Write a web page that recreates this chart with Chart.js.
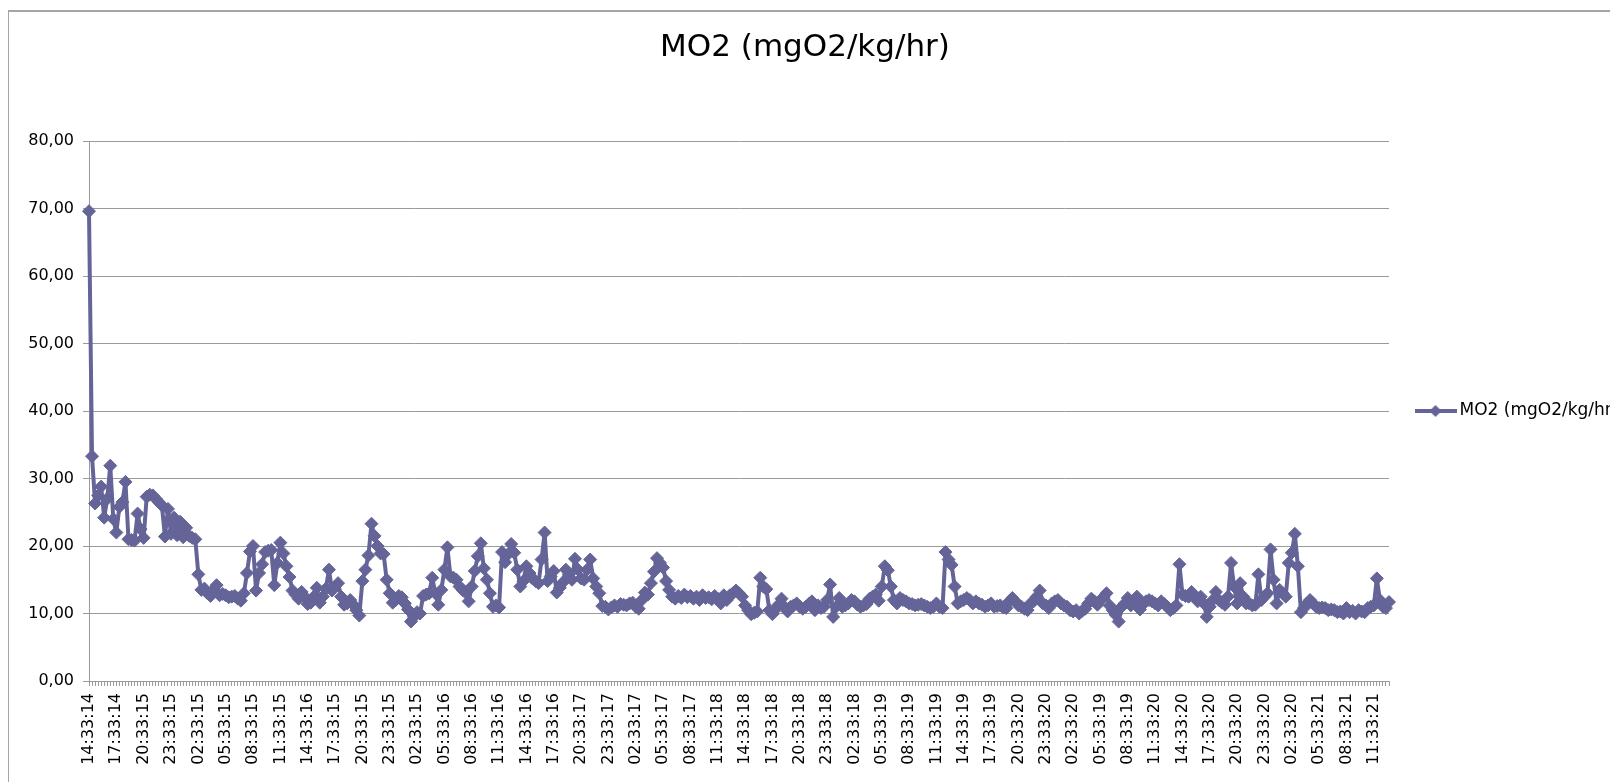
<!DOCTYPE html>
<html lang="en">
<head>
    <meta charset="UTF-8">
    <title>MO2 (mgO2/kg/hr)</title>
    <script src="https://cdn.jsdelivr.net/npm/chart.js"></script>
    <style>
        * {
            margin: 0;
            padding: 0;
            box-sizing: border-box;
        }
        body {
            width: 1610px;
            height: 782px;
            overflow: hidden;
            background: #fff;
            position: relative;
        }
        .frame {
            position: absolute;
            left: 8px;
            top: 10px;
            width: 1620px;
            height: 790px;
            border-left: 1px solid #a6a6a6;
            border-top: 2px solid #a6a6a6;
        }
        .chart-container {
            position: absolute;
            left: 0;
            top: 0;
            width: 1610px;
            height: 782px;
        }
    </style>
</head>
<body>

    <div class="frame"></div>
    <div class="chart-container">
        <canvas id="mo2-chart"></canvas>
    </div>

    <script>
        // labels shown on the x axis, one every 9 readings (20 min steps)
        const tickLabels = [
            '14:33:14', '17:33:14', '20:33:15', '23:33:15', '02:33:15', '05:33:15', '08:33:15', '11:33:15',
            '14:33:16', '17:33:15', '20:33:15', '23:33:15', '02:33:15', '05:33:16', '08:33:16', '11:33:16',
            '14:33:16', '17:33:16', '20:33:17', '23:33:17', '02:33:17', '05:33:17', '08:33:17', '11:33:18',
            '14:33:18', '17:33:18', '20:33:18', '23:33:18', '02:33:18', '05:33:19', '08:33:19', '11:33:19',
            '14:33:19', '17:33:19', '20:33:20', '23:33:20', '02:33:20', '05:33:19', '08:33:19', '11:33:20',
            '14:33:20', '17:33:20', '20:33:20', '23:33:20', '02:33:20', '05:33:21', '08:33:21', '11:33:21'
        ];
        const labelEvery = 9;

        const mo2Values = [
            69.6, 33.3, 26.3, 27.5, 28.8, 24.2, 27.0, 31.9, 24.0, 22.0,
            25.8, 26.5, 29.5, 21.0, 20.9, 20.8, 24.8, 22.5, 21.2, 27.3,
            27.6, 27.5, 27.0, 26.5, 26.0, 21.4, 25.5, 21.8, 24.2, 21.6,
            23.6, 21.3, 22.7, 21.5, 21.2, 21.0, 15.8, 13.5, 13.7, 13.0,
            12.6, 13.5, 14.2, 12.7, 12.9, 12.7, 12.4, 12.5, 12.6, 12.2,
            11.9, 13.0, 16.0, 19.2, 20.0, 13.4, 16.0, 17.3, 19.1, 19.3,
            19.4, 14.2, 17.5, 20.5, 18.9, 17.0, 15.4, 13.4, 12.8, 12.2,
            13.2, 12.5, 11.4, 11.6, 12.5, 13.8, 11.6, 12.5, 13.7, 16.5,
            13.4, 14.0, 14.5, 12.5, 11.3, 11.5, 12.0, 11.3, 10.5, 9.7,
            14.8, 16.5, 18.6, 23.3, 21.5, 20.0, 18.9, 18.8, 15.0, 13.0,
            11.6, 12.0, 12.6, 12.4, 11.5, 10.6, 8.8, 9.5, 10.2, 10.0,
            12.6, 12.8, 13.0, 15.3, 13.0, 11.3, 13.5, 16.5, 19.8, 15.5,
            15.3, 15.0, 14.0, 13.5, 13.1, 11.8, 14.0, 16.3, 18.5, 20.4,
            16.7, 15.0, 13.0, 11.0, 11.2, 10.9, 19.1, 17.6, 18.8, 20.3,
            19.0, 16.5, 14.0, 14.8, 17.0, 16.0, 15.2, 14.8, 14.5, 18.0,
            22.0, 14.8, 15.5, 16.3, 13.1, 13.8, 14.6, 16.5, 15.8, 15.0,
            18.1, 16.5, 15.2, 15.0, 16.5, 18.0, 15.2, 14.0, 13.0, 11.1,
            11.0, 10.6, 10.9, 11.2, 11.0, 11.4, 11.3, 11.2, 11.5, 11.6,
            11.0, 10.7, 12.0, 13.1, 12.8, 14.5, 16.2, 18.2, 17.5, 16.8,
            14.8, 13.5, 12.5, 12.2, 12.6, 12.3, 12.8, 12.4, 12.6, 12.2,
            12.5, 12.0, 12.7, 12.3, 12.4, 12.1, 12.6, 12.2, 11.5, 12.7,
            12.0, 12.7, 13.0, 13.4, 13.0, 12.5, 11.2, 10.5, 9.9, 10.1,
            10.3, 15.3, 14.0, 13.6, 10.5, 9.9, 10.6, 11.3, 12.2, 11.0,
            10.3, 11.0, 11.2, 11.5, 11.0, 10.7, 11.0, 11.4, 11.8, 10.5,
            11.2, 10.8, 11.0, 12.0, 14.3, 9.5, 11.0, 12.3, 11.0, 11.2,
            11.5, 12.0, 11.8, 11.3, 11.0, 11.2, 11.4, 12.2, 12.5, 12.8,
            11.9, 14.0, 17.0, 16.4, 14.0, 12.0, 11.5, 12.3, 12.0, 11.8,
            11.5, 11.4, 11.2, 11.3, 11.4, 11.2, 11.0, 10.8, 11.0, 11.5,
            11.0, 10.8, 19.1, 18.0, 17.2, 14.0, 11.5, 11.8, 12.0, 12.3,
            12.0, 11.5, 11.8, 11.5, 11.3, 11.0, 11.2, 11.5, 11.0, 11.1,
            11.2, 10.9, 10.8, 11.8, 12.3, 11.8, 11.2, 11.0, 10.7, 10.5,
            11.5, 11.8, 12.5, 13.4, 11.5, 11.2, 10.8, 11.5, 11.8, 12.0,
            11.5, 11.2, 11.0, 10.5, 10.3, 10.5, 10.0, 10.4, 10.7, 11.5,
            12.2, 11.8, 11.3, 12.0, 12.4, 13.0, 11.2, 10.5, 9.8, 8.8,
            11.0, 11.5, 12.3, 11.2, 11.8, 12.5, 10.6, 11.5, 11.8, 12.0,
            11.8, 11.5, 11.2, 11.8, 11.4, 11.0, 10.5, 10.8, 11.2, 17.3,
            12.8, 12.6, 12.5, 13.2, 12.5, 11.8, 12.5, 11.5, 9.5, 11.0,
            12.0, 13.2, 12.0, 11.6, 11.3, 12.5, 17.5, 14.0, 11.5, 14.5,
            12.5, 11.5, 11.5, 11.2, 11.3, 15.8, 12.0, 12.5, 13.0, 19.5,
            15.0, 11.5, 13.5, 13.0, 12.5, 17.5, 19.0, 21.8, 17.0, 10.2,
            10.8, 11.5, 12.0, 11.5, 11.0, 10.8, 10.9, 10.8, 10.5, 10.6,
            10.5, 10.2, 10.3, 10.0, 10.8, 10.2, 10.4, 10.0, 10.5, 10.3,
            10.2, 10.8, 11.0, 11.2, 15.2, 12.0, 11.0, 10.8, 11.7
        ];

        const categories = mo2Values.map((v, i) => i % labelEvery === 0 ? tickLabels[i / labelEvery] : '');

        const lineColor = '#646498';
        const gridColor = '#9a9a9a';

        // excel-like legend key: a short line with a diamond on it
        const legendIcon = document.createElement('canvas');
        legendIcon.width = 42;
        legendIcon.height = 16;
        const ic = legendIcon.getContext('2d');
        ic.strokeStyle = lineColor;
        ic.lineWidth = 4;
        ic.beginPath();
        ic.moveTo(0, 8);
        ic.lineTo(42, 8);
        ic.stroke();
        ic.fillStyle = lineColor;
        ic.beginPath();
        ic.moveTo(21, 2);
        ic.lineTo(27, 8);
        ic.lineTo(21, 14);
        ic.lineTo(15, 8);
        ic.closePath();
        ic.fill();

        Chart.defaults.font.family = "'DejaVu Sans', sans-serif";
        Chart.defaults.color = '#000';

        const chartConfig = {
            type: 'line',
            data: {
                labels: categories,
                datasets: [{
                    label: 'MO2 (mgO2/kg/hr)',
                    data: mo2Values,
                    borderColor: lineColor,
                    backgroundColor: lineColor,
                    borderWidth: 4,
                    borderJoinStyle: 'round',
                    tension: 0,
                    pointStyle: 'rectRot',
                    pointRadius: 6.5,
                    pointBackgroundColor: lineColor,
                    pointBorderColor: lineColor,
                    pointBorderWidth: 1
                }]
            },
            options: {
                responsive: true,
                maintainAspectRatio: false,
                animation: false,
                layout: { padding: 0 },
                plugins: {
                    title: {
                        display: true,
                        text: 'MO2 (mgO2/kg/hr)',
                        color: '#000',
                        font: { size: 31, weight: 'normal' },
                        padding: { top: 29, bottom: 74.8 }
                    },
                    legend: {
                        position: 'right',
                        fullSize: false,
                        maxWidth: 221,
                        labels: {
                            usePointStyle: true,
                            pointStyle: legendIcon,
                            pointStyleWidth: 31,
                            padding: 31,
                            color: '#000',
                            font: { size: 17 }
                        }
                    },
                    tooltip: { enabled: false }
                },
                scales: {
                    x: {
                        offset: false,
                        grid: {
                            drawOnChartArea: false,
                            tickLength: 5,
                            color: gridColor
                        },
                        border: { color: gridColor },
                        ticks: {
                            autoSkip: false,
                            minRotation: 90,
                            maxRotation: 90,
                            padding: 7,
                            font: { size: 16 },
                            callback: function (value) {
                                return this.getLabelForValue(value);
                            }
                        },
                        afterFit: function (scale) {
                            scale.height = 101;
                        }
                    },
                    y: {
                        min: 0,
                        max: 80,
                        grid: {
                            color: gridColor,
                            tickLength: 6
                        },
                        border: { color: gridColor },
                        ticks: {
                            stepSize: 10,
                            padding: 9,
                            font: { size: 16 },
                            callback: v => v.toFixed(2).replace('.', ',')
                        },
                        afterFit: function (scale) {
                            scale.width = 89;
                        }
                    }
                }
            }
        };

        const ctx = document.getElementById('mo2-chart').getContext('2d');
        new Chart(ctx, chartConfig);
    </script>

</body>
</html>
